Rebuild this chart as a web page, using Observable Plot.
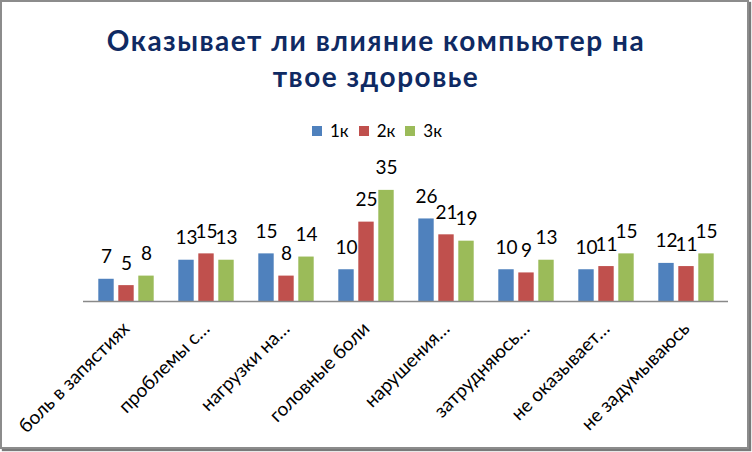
<!DOCTYPE html>
<html><head><meta charset="utf-8">
<script src="https://cdn.jsdelivr.net/npm/d3@7"></script>
<script src="https://cdn.jsdelivr.net/npm/@observablehq/plot@0.6"></script>
<style>
body{margin:0;background:#fff;}
#wrap{position:relative;width:752px;height:452px;overflow:hidden;font-family:Lato,sans-serif;}
#border{position:absolute;left:0;top:0;width:745px;height:445px;border:2px solid #8c8c8c;box-shadow:2px 2px 1px #7a7a7a;}
#title{position:absolute;left:0;top:22px;width:752px;text-align:center;font-weight:bold;font-size:28px;letter-spacing:1.5px;line-height:36px;color:#0f2a63;}
#legend{position:absolute;top:120px;left:312px;display:flex;font-size:17px;color:#000;}
#legend .item{display:flex;align-items:center;margin-right:10px;}
#legend .sw{width:10px;height:10px;margin-right:8px;}
#chart{position:absolute;left:0;top:0;}
</style></head>
<body>
<div id="wrap">
<div id="border"></div>
<div id="title"></div>
<div id="legend"></div>
<div id="chart"></div>
</div>
<script>
const titleLines = ["Оказывает ли влияние компьютер на", "твое здоровье"];
const categories = ["боль в запястиях","проблемы с…","нагрузки на…","головные боли","нарушения…","затрудняюсь…","не оказывает…","не задумываюсь"];
const seriesNames = ["1к","2к","3к"];
const seriesColors = ["#4F81BD","#C0504D","#9BBB59"];
const k1 = [7,13,15,10,26,10,10,12];
const k2 = [5,15,8,25,21,9,11,11];
const k3 = [8,13,14,35,19,13,15,15];
const seriesValues = [k1,k2,k3];

document.getElementById("title").innerHTML = titleLines.join("<br>");
const leg = document.getElementById("legend");
seriesNames.forEach((s,i)=>{
  const it = document.createElement("div"); it.className="item";
  const sw = document.createElement("div"); sw.className="sw"; sw.style.background=seriesColors[i];
  const lb = document.createElement("span"); lb.textContent=s;
  it.appendChild(sw); it.appendChild(lb); leg.appendChild(it);
});

const offsets = [-20,0,20];
const marks = [];
seriesNames.forEach((s,j)=>{
  const data = categories.map((c,i)=>({cat:c, series:s, value:seriesValues[j][i]}));
  marks.push(Plot.barY(data,{x:"cat", y:"value", fill:seriesColors[j], insetLeft:32.3, insetRight:32.3, dx:offsets[j]}));
});
seriesNames.forEach((s,j)=>{
  const data = categories.map((c,i)=>({cat:c, series:s, value:seriesValues[j][i]}));
  marks.push(Plot.text(data,{x:"cat", y:"value", text:d=>String(d.value), dx:offsets[j], dy:-22, fontSize:19, fill:"#000"}));
});
marks.push(Plot.ruleY([0],{stroke:"#898989", strokeWidth:1.5}));

const chart = Plot.plot({
  width:752, height:452,
  marginLeft:83, marginRight:24, marginTop:174, marginBottom:151,
  x:{domain:categories, padding:0, tickRotate:-45, tickSize:0, tickPadding:24, label:null},
  y:{domain:[0,40], axis:null},
  style:{fontFamily:"Lato, sans-serif", fontSize:"19px", color:"#000", background:"transparent", overflow:"visible"},
  marks
});
document.getElementById("chart").appendChild(chart);
</script>
</body></html>
